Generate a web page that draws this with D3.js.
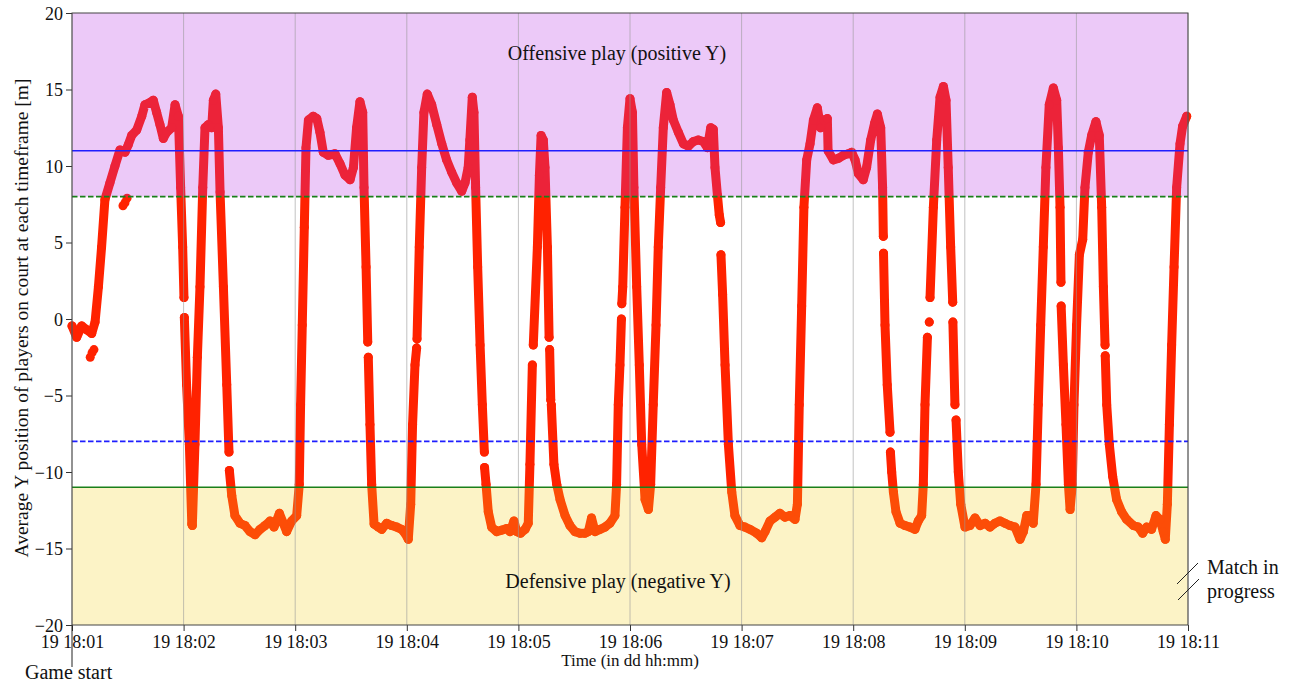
<!DOCTYPE html>
<html>
<head>
<meta charset="utf-8">
<script src="https://cdn.jsdelivr.net/npm/d3@7"></script>
<style>
html,body{margin:0;padding:0;background:#fff;}
svg{display:block;font-family:"Liberation Serif","DejaVu Serif",serif;}
</style>
</head>
<body>
<svg id="chart" width="1298" height="682"></svg>
<script>
// ---- DATA ----
// seconds after 19 18:01:00, and average Y position [m]; null = gap between samples
const times = [
0,2.5,5.2,7.9,10.6,12.4,14.2,15.9,17.7,20.4,23.1,25.8,28.5,30.3,32.1,34.8,37.5,39.2,41.9,43.7,45.5,47.3,49.1,50.9,53.6,55.4,57.2,58.4,59.5,60.2,60.3,
60.4,61.6,63.1,64.4,64.7,66.1,67.4,68.8,70.3,71.5,73.3,75.1,76.0,77.3,78.7,79.6,81.4,83.2,84.4,84.5,
84.6,85.9,87.6,90.3,93.0,95.7,98.4,101.1,103.8,106.5,108.6,111.5,113.6,115.4,118.1,120.8,122.2,122.9,123.8,124.9,125.8,127.1,129.7,131.6,133.3,135.1,137.8,
141.4,144.1,146.8,149.5,151.3,153.0,154.8,156.3,157.0,158.1,159.0,159.1,
159.3,160.2,161.1,162.4,164.7,166.5,169.2,171.9,174.6,177.2,179.0,180.8,182.1,183.1,184.4,185.3,185.4,
185.5,186.7,188.0,189.2,191.0,193.4,196.1,198.8,201.4,204.1,206.8,209.5,211.3,213.0,213.9,215.2,216.1,217.0,218.1,219.4,220.6,221.7,221.75,
221.8,222.6,223.8,225.6,228.3,231.0,233.7,235.5,237.6,239.1,241.2,243.6,245.3,246.2,247.5,247.7,
248.0,250.2,251.3,252.2,253.4,254.3,255.6,256.5,256.6,
256.8,257.4,257.5,
257.7,259.1,260.6,262.4,265.1,267.7,270.4,273.1,275.8,277.6,279.3,281.2,283.9,
286.6,289.2,291.9,292.8,293.7,294.6,295.4,295.5,
295.6,296.1,297.3,298.6,300.0,301.3,302.1,303.6,305.0,306.3,308.1,309.9,311.1,312.5,314.0,315.2,316.5,317.9,319.7,321.5,323.3,326.0,328.7,331.4,334.1,336.7,339.4,341.6,343.4,344.8,345.7,347.0,348.0,348.7,348.8,
348.9,349.8,351.1,352.9,354.7,356.4,359.1,361.8,364.5,368.1,370.8,372.6,375.3,378.0,380.6,383.3,386.0,388.7,390.0,391.0,392.3,393.5,395.0,396.8,398.6,400.7,402.5,404.3,406.1,406.5,409.3,412.0,414.7,417.4,419.2,421.0,422.8,425.4,427.2,429.4,431.5,
433.0,434.8,435.8,436.2,436.25,
436.3,437.1,438.3,439.8,439.9,
440.0,440.7,441.6,443.0,445.2,447.8,450.5,453.2,455.0,456.8,457.7,458.6,459.9,460.4,
460.9,461.1,
461.3,463.1,464.9,466.7,468.5,469.9,471.1,472.4,473.5,473.55,
473.6,474.7,475.0,
475.3,476.5,477.8,480.1,482.8,485.5,488.2,490.9,493.5,496.2,498.9,501.6,504.3,507.0,509.7,511.5,513.3,515.0,516.8,518.3,519.5,520.8,522.2,523.6,525.4,527.6,529.4,530.3,531.2,531.7,531.75,
531.8,533.0,534.4,535.7,536.6,537.8,538.7,540.1,541.6,543.4,544.6,546.4,548.2,550.5,552.3,553.6,554.5,555.4,555.45,
555.5,556.3,557.7,559.5,561.6,564.3,567.0,570.6,573.3,575.6,577.8,580.4,582.8,584.9,586.7,587.8,588.9,590.0,591.2,592.5,593.9,595.7,597.1,599.3
];
const ypos = [
-0.45,-1.2,-0.45,-0.7,-0.95,-0.2,2.1,4.7,7.8,8.9,10.0,11.05,10.9,11.4,12.0,12.35,13.25,14.0,14.15,14.3,13.5,12.7,11.8,12.2,12.5,14.0,13.25,8.6,4.7,1.4,null,
0.1,-4.3,-8.2,-13.4,-13.5,-8.2,-2.5,2.1,8.6,12.5,12.7,12.5,14.3,14.7,12.5,8.3,2.1,-4.3,-8.7,null,
-9.9,-11.55,-12.85,-13.35,-13.5,-13.9,-14.1,-13.75,-13.5,-13.2,-13.6,-12.7,-13.35,-13.9,-13.2,-12.85,-10.8,-5.6,-0.4,6.0,11.2,13.0,13.25,13.1,12.2,10.9,10.7,
10.8,10.15,9.4,9.1,9.9,12.5,14.2,13.5,8.6,3.4,-1.5,null,
-2.5,-6.9,-10.8,-13.4,-13.6,-13.75,-13.35,-13.5,-13.6,-13.75,-14.0,-14.4,-12.1,-6.9,-3.0,-1.9,null,
-1.3,4.7,9.9,13.5,14.7,14.0,12.7,11.45,10.4,9.6,8.9,8.35,8.9,9.9,11.7,14.5,13.5,8.6,3.4,-1.7,-5.6,-8.7,null,
-9.7,-10.8,-12.6,-13.6,-13.9,-13.8,-13.7,-13.9,-13.2,-13.9,-14.0,-13.75,-13.35,-9.5,-3.0,null,
-1.7,4.7,9.4,12.0,11.7,9.9,4.7,-1.2,null,
-2.0,-5.3,null,
-5.6,-9.5,-10.8,-11.8,-12.85,-13.5,-13.9,-14.0,-14.0,-13.9,-13.0,-13.9,-13.75,
-13.6,-13.35,-12.85,-10.8,-5.6,-3.0,0.0,null,
1.0,2.1,7.3,12.5,14.4,13.5,8.6,2.1,-3.0,-8.2,-11.8,-12.45,-10.8,-5.6,-0.4,4.7,8.6,12.5,14.8,14.0,13.0,12.2,11.45,11.3,11.6,11.7,11.6,11.2,12.5,12.4,9.9,8.1,6.8,6.3,null,
4.2,1.6,-3.0,-8.2,-11.3,-12.85,-13.5,-13.6,-13.75,-14.0,-14.3,-13.9,-13.2,-12.95,-12.7,-12.95,-12.85,-13.1,-12.1,-5.6,0.85,7.3,10.4,11.45,13.0,13.8,12.5,13.0,13.1,11.0,10.4,10.5,10.7,10.8,10.9,10.4,9.5,9.1,9.9,11.7,12.8,
13.4,12.5,8.6,5.4,null,
4.3,-0.4,-4.3,-7.4,null,
-8.7,-10.0,-11.3,-12.6,-13.35,-13.5,-13.6,-13.75,-13.2,-12.85,-10.8,-5.6,-1.2,null,
-0.2,null,
1.4,7.3,11.7,14.5,15.2,14.3,9.9,4.7,1.1,null,
-0.2,-5.6,null,
-6.6,-10.0,-12.1,-13.6,-13.5,-13.0,-13.5,-13.35,-13.6,-13.35,-13.2,-13.35,-13.5,-13.6,-14.4,-13.9,-12.85,-12.85,-13.35,-10.8,-5.6,-0.4,4.7,9.9,14.0,15.1,14.3,11.2,7.3,2.4,null,
0.85,-3.0,-6.9,-10.8,-12.45,-10.8,-5.6,-0.4,4.2,5.2,8.6,10.9,12.0,12.9,12.0,7.3,2.1,-1.7,null,
-2.4,-5.6,-8.2,-10.3,-11.8,-12.6,-13.1,-13.5,-13.6,-14.0,-13.6,-13.75,-12.85,-13.1,-13.9,-14.4,-12.1,-6.9,-1.7,3.4,8.6,11.45,12.6,13.25
];
// isolated samples away from the main trace
const strayTimes = [9.8, 10.8, 11.8, 27.4, 28.5, 29.6];
const strayY = [-2.5, -2.2, -2.0, 7.4, 7.6, 7.9];

const minuteTicks = [1,2,3,4,5,6,7,8,9,10,11];   // minutes past 18:00
const yTicks = [-20,-15,-10,-5,0,5,10,15,20];
const thresholds = {offence: 11, offenceDash: 8, defenceDash: -8, defence: -11};
const xLabel = "Time (in dd hh:mm)";
const yLabel = "Average Y position of players on court at each timeframe [m]";

// ---- CHART ----
const svg = d3.select("#chart");
const L = 72, R = 1188, T = 13, B = 625;
const t0 = Date.UTC(2023, 0, 19, 18, 1, 0);
const toDate = s => new Date(t0 + s * 1000);
const x = d3.scaleUtc().domain([toDate(0), toDate(600)]).range([L, R]);
const y = d3.scaleLinear().domain([-20, 20]).range([B, T]);

const data = times.map((t, i) => ({t: toDate(t), v: ypos[i]}));
const red = "#ff2200";

// red trace
const line = d3.line().defined(d => d.v !== null).x(d => x(d.t)).y(d => y(d.v));
svg.append("path").datum(data).attr("d", line)
  .attr("fill", "none").attr("stroke", red).attr("stroke-width", 9)
  .attr("stroke-linecap", "round").attr("stroke-linejoin", "round");
svg.append("g").selectAll("circle").data(data.filter(d => d.v !== null)).join("circle")
  .attr("cx", d => x(d.t)).attr("cy", d => y(d.v)).attr("r", 4.5).attr("fill", red);
svg.append("g").selectAll("circle").data(strayTimes.map((t, i) => ({t: toDate(t), v: strayY[i]}))).join("circle")
  .attr("cx", d => x(d.t)).attr("cy", d => y(d.v)).attr("r", 4.5).attr("fill", red);

// translucent zones drawn above the trace
svg.append("rect").attr("x", L).attr("width", R - L).attr("y", y(20)).attr("height", y(8) - y(20))
  .attr("fill", "rgb(181,39,228)").attr("fill-opacity", 0.25);
svg.append("rect").attr("x", L).attr("width", R - L).attr("y", y(-11)).attr("height", y(-20) - y(-11))
  .attr("fill", "rgb(243,207,27)").attr("fill-opacity", 0.25);

// vertical grid
const tickDates = minuteTicks.map(m => new Date(Date.UTC(2023, 0, 19, 18, m, 0)));
svg.append("g").selectAll("line").data(tickDates).join("line")
  .attr("x1", d => x(d)).attr("x2", d => x(d)).attr("y1", T).attr("y2", B)
  .attr("stroke", "#9a9a9a").attr("stroke-opacity", 0.6).attr("stroke-width", 1);

// horizontal reference lines
const hl = (v, color, dash) => svg.append("line").attr("x1", L).attr("x2", R)
  .attr("y1", y(v)).attr("y2", y(v)).attr("stroke", color).attr("stroke-width", 1.6)
  .attr("stroke-dasharray", dash ? "5.5,2.5" : null);
hl(thresholds.offence, "#1f1fff", false);
hl(thresholds.offenceDash, "#1a801a", true);
hl(thresholds.defenceDash, "#1f1fff", true);
hl(thresholds.defence, "#1a801a", false);

// zone texts
svg.append("text").attr("x", 617).attr("y", 60).attr("text-anchor", "middle")
  .attr("font-size", 20).attr("fill", "#111").text("Offensive play (positive Y)");
svg.append("text").attr("x", 618).attr("y", 588).attr("text-anchor", "middle")
  .attr("font-size", 20).attr("fill", "#111").text("Defensive play (negative Y)");

// axes
const fmt = d3.utcFormat("%d %H:%M");
const xAxis = svg.append("g").attr("transform", `translate(0,${B})`)
  .call(d3.axisBottom(x).tickValues(tickDates).tickFormat(fmt).tickSize(6).tickPadding(4));
const yAxis = svg.append("g").attr("transform", `translate(${L},0)`)
  .call(d3.axisLeft(y).tickValues(yTicks).tickSize(6).tickPadding(3));
[xAxis, yAxis].forEach(g => {
  g.select(".domain").remove();
  g.selectAll(".tick line").attr("stroke", "#333");
  g.selectAll(".tick text").attr("font-family", "Liberation Serif").attr("font-size", 18).attr("fill", "#111");
});
xAxis.selectAll(".tick text").attr("dy", "0.72em");
yAxis.selectAll(".tick text").attr("dy", "0.34em");

// frame
svg.append("rect").attr("x", L).attr("y", T).attr("width", R - L).attr("height", B - T)
  .attr("fill", "none").attr("stroke", "#444").attr("stroke-width", 1);

// axis titles
svg.append("text").attr("x", 630).attr("y", 666).attr("text-anchor", "middle")
  .attr("font-size", 17).attr("fill", "#111").text(xLabel);
svg.append("text").attr("transform", "translate(28,318) rotate(-90)").attr("text-anchor", "middle")
  .attr("font-size", 19.5).attr("fill", "#111").text(yLabel);

// annotations
svg.append("line").attr("x1", x(toDate(0))).attr("x2", x(toDate(0))).attr("y1", B + 1).attr("y2", 667)
  .attr("stroke", "#222").attr("stroke-width", 1);
svg.append("text").attr("x", 25).attr("y", 679).attr("font-size", 20).attr("fill", "#111").text("Game start");
svg.append("line").attr("x1", 1177).attr("y1", 584).attr("x2", 1198).attr("y2", 563).attr("stroke", "#222").attr("stroke-width", 1);
svg.append("line").attr("x1", 1178).attr("y1", 600).attr("x2", 1199).attr("y2", 579).attr("stroke", "#222").attr("stroke-width", 1);
svg.append("text").attr("x", 1207).attr("y", 574).attr("font-size", 20).attr("fill", "#111").text("Match in");
svg.append("text").attr("x", 1207).attr("y", 598).attr("font-size", 20).attr("fill", "#111").text("progress");
</script>
</body>
</html>
